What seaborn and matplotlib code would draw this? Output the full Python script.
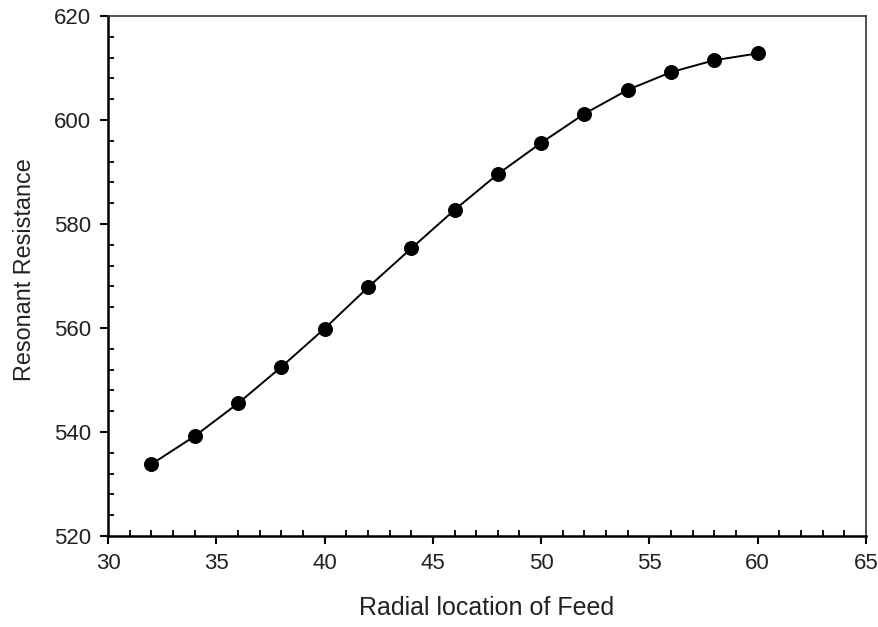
import matplotlib
matplotlib.use("Agg")
import matplotlib.pyplot as plt
import seaborn as sns
import pandas as pd
from matplotlib.ticker import MultipleLocator

feed_location = [32, 34, 36, 38, 40, 42, 44, 46, 48, 50, 52, 54, 56, 58, 60]
resonant_resistance = [533.8, 539.2, 545.5, 552.5, 559.9, 567.8, 575.3, 582.7,
                       589.6, 595.6, 601.2, 605.8, 609.2, 611.5, 612.8]
x_ticks = [30, 35, 40, 45, 50, 55, 60, 65]
y_ticks = [520, 540, 560, 580, 600, 620]

sns.set_theme(style="white")
plt.rcParams['font.family'] = ['Liberation Sans', 'DejaVu Sans']

df = pd.DataFrame({"x": feed_location, "y": resonant_resistance})

fig = plt.figure(figsize=(8.79, 6.27), dpi=100)
ax = fig.add_axes([0.1229, 0.1451, 0.8623, 0.8294])

sns.lineplot(data=df, x="x", y="y", ax=ax, color="black", linewidth=1.4,
             marker="o", markersize=10, markeredgecolor="black",
             markerfacecolor="black")

ax.set_xlim(30, 65)
ax.set_ylim(520, 620)
ax.set_xticks(x_ticks)
ax.set_yticks(y_ticks)
ax.xaxis.set_minor_locator(MultipleLocator(1))
ax.yaxis.set_minor_locator(MultipleLocator(4))

ax.tick_params(axis="both", which="major", direction="out", length=6, width=1.5,
               labelsize=16, pad=6, color="black", labelcolor="#222222",
               bottom=True, left=True, top=False, right=False)
ax.tick_params(axis="both", which="minor", direction="in", length=4, width=1.3,
               color="black", bottom=True, left=True, top=False, right=False)

for side in ["left", "bottom"]:
    ax.spines[side].set_linewidth(1.8)
    ax.spines[side].set_color("black")
for side in ["top", "right"]:
    ax.spines[side].set_linewidth(1.2)
    ax.spines[side].set_color("#333333")

ax.set_xlabel("Radial location of Feed", fontsize=18, labelpad=16, color="#222222")
ax.set_ylabel("Resonant Resistance", fontsize=16.8, color="#222222")
ax.yaxis.set_label_coords(-0.095, 0.512)

fig.savefig("out.png", dpi=100)
